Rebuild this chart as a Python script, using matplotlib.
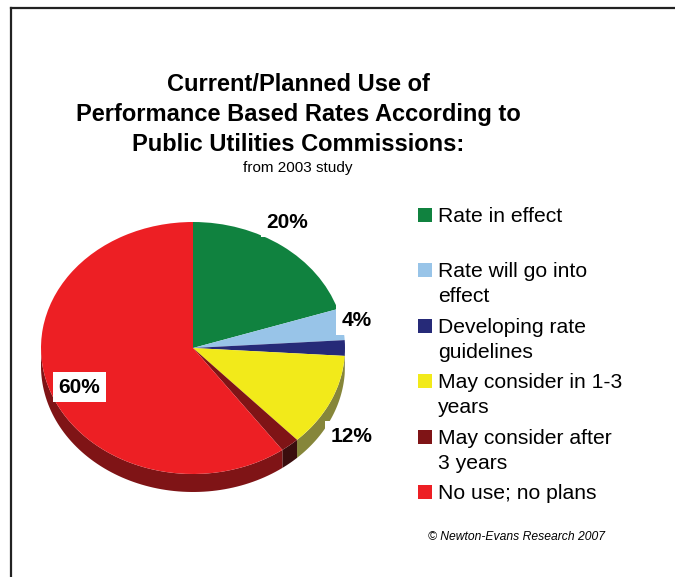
import numpy as np
import matplotlib.pyplot as plt
from matplotlib.patches import Rectangle
from matplotlib.lines import Line2D

plt.rcParams['font.family'] = ['Liberation Sans', 'DejaVu Sans']

# Survey shares (%), clockwise from 12 o'clock
categories = ['Rate in effect', 'Rate will go into\neffect', 'Developing rate\nguidelines',
              'May consider in 1-3\nyears', 'May consider after\n3 years', 'No use; no plans']
shares = [20, 4, 2, 12, 2, 60]
value_labels = ['20%', '4%', None, '12%', None, '60%']

top_colors = ['#10823f', '#98c4e8', '#262a78', '#f2ea1a', '#7f1416', '#ed1f24']
side_colors = ['#085028', '#6a8aa4', '#161848', '#86863a', '#3a0e0e', '#7f1416']

W, H = 675, 577
fig = plt.figure(figsize=(W / 100, H / 100), dpi=100)

# pie geometry in pixels (an ellipse: tilted disc)
cx, cy, rx, ry = 193, 348, 152, 126
depth = 18 / ry
ax = fig.add_axes([(cx - 1.1 * rx) / W, 1 - (cy + 1.3 * ry) / H, 2.2 * rx / W, 2.4 * ry / H])

wedges, _ = ax.pie(shares, colors=top_colors, startangle=90, counterclock=False,
                   radius=1, wedgeprops=dict(linewidth=0))
for w in wedges:
    w.set_zorder(3)
ax.set_aspect('auto')
ax.set_xlim(-1.1, 1.1)
ax.set_ylim(-1.3, 1.1)
ax.axis('off')

# side walls of the disc, only the front (lower) half shows
bounds = 90 - 360 * np.concatenate([[0], np.cumsum(shares)]) / sum(shares)
for i in range(len(shares)):
    hi, lo = bounds[i], bounds[i + 1]
    a, b = min(hi, 0), max(lo, -180)
    if a <= b:
        continue
    t = np.radians(np.linspace(a, b, 80))
    xs = np.concatenate([np.cos(t), np.cos(t[::-1])])
    ys = np.concatenate([np.sin(t), np.sin(t[::-1]) - depth])
    ax.fill(xs, ys, color=side_colors[i], lw=0, zorder=2)

# percentage labels
label_pos = {0: (0.62, 1.0), 1: (1.08, 0.22), 3: (1.04, -0.7), 5: (-0.75, -0.31)}
for i, txt in enumerate(value_labels):
    if txt is None:
        continue
    x, y = label_pos[i]
    ax.text(x, y, txt, fontsize=15, fontweight='bold', ha='center', va='center', zorder=5,
            bbox=dict(facecolor='white', edgecolor='none', pad=4))

# title
title_lines = ['Current/Planned Use of', 'Performance Based Rates According to',
               'Public Utilities Commissions:']
for k, line in enumerate(title_lines):
    fig.text(298 / W, 1 - (91 + 30 * k) / H, line, fontsize=17, fontweight='bold',
             ha='center', va='baseline')
fig.text(298 / W, 1 - 172 / H, 'from 2003 study', fontsize=11, ha='center', va='baseline')

# legend
for i, lab in enumerate(categories):
    base = 222 + 55.4 * i
    fig.patches.append(Rectangle((418 / W, 1 - base / H), 14 / W, 14 / H,
                                 transform=fig.transFigure, facecolor=top_colors[i],
                                 edgecolor='none'))
    for k, part in enumerate(lab.split('\n')):
        fig.text(438 / W, 1 - (base + 25 * k) / H, part, fontsize=15.2,
                 ha='left', va='baseline')

fig.text(428 / W, 1 - 537 / H, '\u00a9 Newton-Evans Research 2007', fontsize=8.7,
         style='italic', ha='left', va='center')

# frame lines along top and left edges
fig.lines.append(Line2D([11 / W, 1], [1 - 8 / H, 1 - 8 / H], transform=fig.transFigure,
                        color='#222222', lw=1.6))
fig.lines.append(Line2D([11 / W, 11 / W], [0, 1 - 8 / H], transform=fig.transFigure,
                        color='#222222', lw=1.6))

fig.savefig('out.png', dpi=100)
